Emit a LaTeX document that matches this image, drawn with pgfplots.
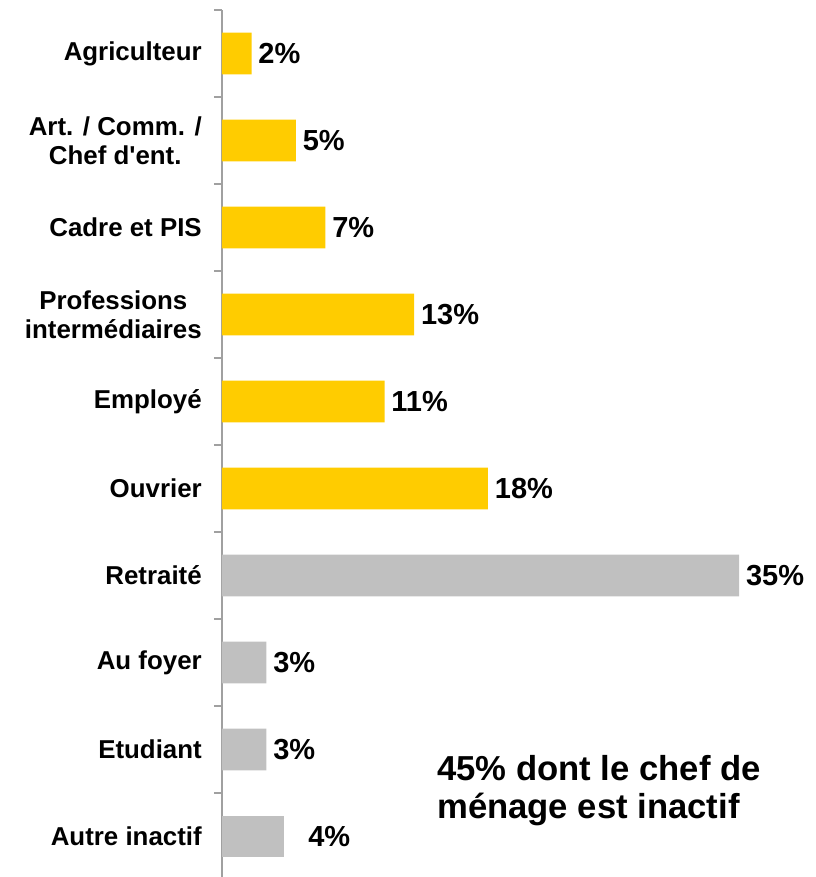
\documentclass[border=0pt]{standalone}
\usepackage{pgfplots}
\pgfplotsset{compat=1.18}
\usepackage{fontspec}
\setmainfont{Liberation Sans}
\definecolor{barY}{HTML}{FFCC00}
\definecolor{barG}{HTML}{C0C0C0}
\definecolor{axG}{HTML}{A0A0A0}
\begin{document}
\begin{tikzpicture}
\path[use as bounding box] (-166.5pt,7.5pt) rectangle (445.5pt,-650.25pt);
\begin{axis}[
  at={(0,0)}, anchor=north west,
  scale only axis,
  width=443.25pt, height=652.5pt,
  xmin=0, xmax=40,
  ymin=-0.5, ymax=9.5,
  y dir=reverse,
  axis x line=none,
  axis y line*=left,
  y axis line style={draw=axG, line width=1.5pt},
  ytick={0,...,9},
  major tick length=0pt,
  minor ytick={-0.5,0.5,...,9.5},
  minor tick length=6pt,
  tick align=outside,
  minor tick style={draw=axG, line width=1.5pt},
  yticklabels={Agriculteur,{Art. / Comm. /\\Chef d\textquotesingle ent.},Cadre et PIS,{Professions\\intermédiaires},Employé,Ouvrier,Retraité,Au foyer,Etudiant,Autre inactif},
  yticklabel style={font=\bfseries\fontsize{19.4}{22}\selectfont, align=center, inner sep=0pt, xshift=-15pt},
  xbar, bar width=0.48, bar shift=0pt,
  clip=false,
  point meta=explicit symbolic,
  nodes near coords,
  nodes near coords style={font=\bfseries\fontsize{21.75}{24}\selectfont, inner sep=0pt, anchor=west, xshift=5pt, text=black},
]
\addplot[fill=barY, draw=none] coordinates {(2,0) [2\%] (5,1) [5\%] (7,2) [7\%] (13,3) [13\%] (11,4) [11\%] (18,5) [18\%]};
\addplot[fill=barG, draw=none] coordinates {(35,6) [35\%] (3,7) [3\%] (3,8) [3\%]};
\addplot[fill=barG, draw=none, nodes near coords style={xshift=13pt}] coordinates {(4.2,9) [4\%]};
\node[anchor=north west, align=left, inner sep=0pt, font=\bfseries\fontsize{26}{28.5}\selectfont] at (axis cs:14.55,8.06) {45\% dont le chef de\\ménage est inactif};
\end{axis}
\end{tikzpicture}
\end{document}
